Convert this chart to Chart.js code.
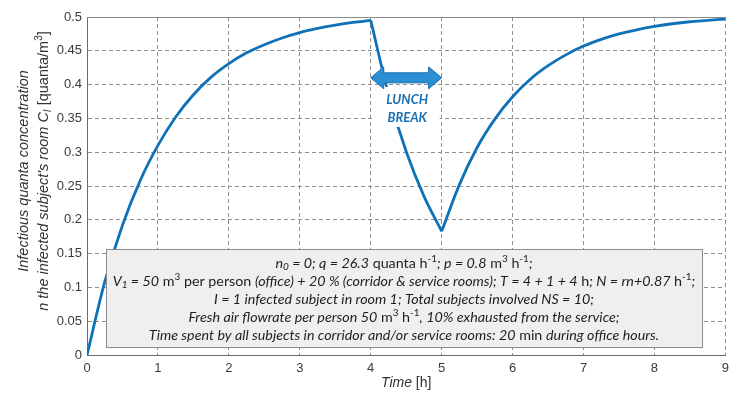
<!DOCTYPE html>
<html>
<head>
<meta charset="utf-8">
<script src="https://cdn.jsdelivr.net/npm/chart.js@4.4.1/dist/chart.umd.min.js"></script>
<style>
  html, body { margin: 0; padding: 0; background: #fff; }
  #wrap { width: 735px; height: 394px; }
</style>
</head>
<body>
<div id="wrap"><canvas id="conc-chart" width="735" height="394"></canvas></div>
<script>
// Values (time in h, concentration in quanta/m3)
var morningTime = [0, 0.25, 0.5, 0.75, 1, 1.25, 1.5, 1.75, 2, 2.25, 2.5, 2.75, 3, 3.25, 3.5, 3.75, 4];
var morningConc = [0, 0.108, 0.192, 0.258, 0.310, 0.352, 0.385, 0.411, 0.431, 0.447, 0.459, 0.469, 0.477, 0.483, 0.488, 0.492, 0.495];
var lunchTime = [4, 4.25, 4.5, 4.75, 5];
var lunchConc = [0.495, 0.386, 0.301, 0.235, 0.183];
var afternoonTime = [5, 5.25, 5.5, 5.75, 6, 6.25, 6.5, 6.75, 7, 7.25, 7.5, 7.75, 8, 8.25, 8.5, 8.75, 9];
var afternoonConc = [0.183, 0.252, 0.307, 0.349, 0.382, 0.408, 0.428, 0.444, 0.457, 0.467, 0.475, 0.481, 0.486, 0.490, 0.493, 0.495, 0.497];
var xTicks = [0, 1, 2, 3, 4, 5, 6, 7, 8, 9];
var yTicks = [0, 0.05, 0.1, 0.15, 0.2, 0.25, 0.3, 0.35, 0.4, 0.45, 0.5];

var lineColor = '#0f72b8';
var boxFont = 'Lato';
var axisFont = 'Liberation Sans';

function toPoints(xs, ys) {
  return xs.map(function(x, i) { return { x: x, y: ys[i] }; });
}

function makeSet(xs, ys) {
  return {
    data: toPoints(xs, ys),
    borderColor: lineColor,
    borderWidth: 2.8,
    pointRadius: 0,
    fill: false,
    cubicInterpolationMode: 'monotone'
  };
}

// draws a line of mixed italic / regular / sub / sup text centred on cx
function drawRich(ctx, segs, cx, y, size, family) {
  function fontFor(st) {
    var small = Math.round(size * 0.68);
    if (st === 'i') return 'italic ' + size + 'px "' + family + '"';
    if (st === 'sub') return 'italic ' + small + 'px "' + family + '"';
    if (st === 'sup') return small + 'px "' + family + '"';
    return size + 'px "' + family + '"';
  }
  var total = 0;
  segs.forEach(function(s) {
    ctx.font = fontFor(s[1]);
    total += ctx.measureText(s[0]).width;
  });
  var x = cx - total / 2;
  ctx.textAlign = 'left';
  ctx.textBaseline = 'middle';
  segs.forEach(function(s) {
    ctx.font = fontFor(s[1]);
    var dy = 0;
    if (s[1] === 'sub') dy = size * 0.28;
    if (s[1] === 'sup') dy = -size * 0.3;
    ctx.fillText(s[0], x, y + dy);
    x += ctx.measureText(s[0]).width;
  });
}

var boxLines = [
  [['n', 'i'], ['0', 'sub'], [' = 0; q = 26.3', 'i'], [' quanta h', 'r'], ['-1', 'sup'], ['; p = 0.8', 'i'], [' m', 'r'], ['3', 'sup'], [' h', 'r'], ['-1', 'sup'], [';', 'i']],
  [['V', 'i'], ['1', 'sub'], [' = 50', 'i'], [' m', 'r'], ['3', 'sup'], [' per person ', 'r'], ['(office) + 20 % (corridor & service rooms); T = 4 + 1 + 4', 'i'], [' h', 'r'], ['; N = rn+0.87', 'i'], [' h', 'r'], ['-1', 'sup'], [';', 'i']],
  [['I = 1 infected subject in room 1; Total subjects involved NS = 10;', 'i']],
  [['Fresh air flowrate per person 50', 'i'], [' m', 'r'], ['3', 'sup'], [' h', 'r'], ['-1', 'sup'], [', 10% exhausted from the service;', 'i']],
  [['Time spent by all subjects in corridor and/or service rooms: 20', 'i'], [' min ', 'r'], ['during office hours.', 'i']]
];

var annotations = {
  id: 'annotations',
  beforeDatasetsDraw: function(chart) {
    var ctx = chart.ctx, a = chart.chartArea;
    ctx.save();
    ctx.strokeStyle = '#8a8a8a';
    ctx.lineWidth = 1;
    ctx.beginPath();
    ctx.moveTo(a.left, a.top + 0.5);
    ctx.lineTo(a.right, a.top + 0.5);
    ctx.stroke();
    ctx.restore();
  },
  afterDatasetsDraw: function(chart) {
    var ctx = chart.ctx, a = chart.chartArea;
    var xs = chart.scales.x, ys = chart.scales.y;
    ctx.save();
    // info box
    var bx = a.left + 19, by = 249, bw = 596, bh = 98;
    ctx.fillStyle = '#efefef';
    ctx.fillRect(bx, by, bw, bh);
    ctx.strokeStyle = '#8c8c8c';
    ctx.lineWidth = 1;
    ctx.strokeRect(bx + 0.5, by + 0.5, bw, bh);
    ctx.fillStyle = '#1e1e1e';
    boxLines.forEach(function(line, i) {
      drawRich(ctx, line, bx + bw / 2, by + 14 + i * 18, 14.3, boxFont);
    });

    // lunch break label
    var x4 = xs.getPixelForValue(4), x5 = xs.getPixelForValue(5);
    var ay = ys.getPixelForValue(0.41);
    ctx.fillStyle = '#ffffff';
    ctx.fillRect(x4 + 3, ay + 9, x5 - x4 - 5, 40);
    ctx.fillStyle = '#1a6fb3';
    ctx.font = 'italic bold 13px "' + boxFont + '"';
    ctx.textAlign = 'center';
    ctx.textBaseline = 'middle';
    ctx.fillText('LUNCH', (x4 + x5) / 2 + 1, ay + 22);
    ctx.fillText('BREAK', (x4 + x5) / 2 + 1, ay + 40);

    // double arrow
    var hl = 13, hh = 11, sh = 5;
    ctx.beginPath();
    ctx.moveTo(x4, ay);
    ctx.lineTo(x4 + hl, ay - hh);
    ctx.lineTo(x4 + hl, ay - sh);
    ctx.lineTo(x5 - hl, ay - sh);
    ctx.lineTo(x5 - hl, ay - hh);
    ctx.lineTo(x5, ay);
    ctx.lineTo(x5 - hl, ay + hh);
    ctx.lineTo(x5 - hl, ay + sh);
    ctx.lineTo(x4 + hl, ay + sh);
    ctx.lineTo(x4 + hl, ay + hh);
    ctx.closePath();
    ctx.fillStyle = '#2b8fd4';
    ctx.fill();
    ctx.strokeStyle = '#1b6fae';
    ctx.lineWidth = 1;
    ctx.stroke();
    ctx.restore();
  },
  afterDraw: function(chart) {
    var ctx = chart.ctx, a = chart.chartArea;
    ctx.save();
    ctx.fillStyle = '#333';
    // x title
    drawRich(ctx, [['Time', 'i'], [' [h]', 'r']], (a.left + a.right) / 2, 383, 14, axisFont);
    // y title, two rotated lines
    ctx.translate(24, 171);
    ctx.rotate(-Math.PI / 2);
    drawRich(ctx, [['Infectious quanta concentration', 'i']], 0, 0, 14.5, axisFont);
    drawRich(ctx, [["n the infected subject's room C", 'i'], ['I', 'sub'], [' [quanta/m', 'r'], ['3', 'sup'], [']', 'r']], 0, 20, 14.5, axisFont);
    ctx.restore();
  }
};

var ctx = document.getElementById('conc-chart').getContext('2d');
var concChart = new Chart(ctx, {
  type: 'line',
  data: {
    datasets: [
      makeSet(morningTime, morningConc),
      makeSet(lunchTime, lunchConc),
      makeSet(afternoonTime, afternoonConc)
    ]
  },
  options: {
    responsive: false,
    animation: false,
    events: [],
    layout: { padding: { top: 17, right: 8, left: 0, bottom: 0 } },
    plugins: { legend: { display: false }, tooltip: { enabled: false } },
    scales: {
      x: {
        type: 'linear',
        min: 0,
        max: 9,
        afterBuildTicks: function(scale) {
          scale.ticks = xTicks.map(function(v) { return { value: v }; });
        },
        afterFit: function(scale) { scale.height = 39; },
        ticks: { color: '#3a3a3a', font: { family: axisFont, size: 13 }, padding: 6, maxRotation: 0 },
        grid: { color: '#8f8f8f', drawTicks: false },
        border: { display: true, color: '#6a6a6a', width: 1, dash: [4, 3] }
      },
      y: {
        min: 0,
        max: 0.5,
        afterBuildTicks: function(scale) {
          scale.ticks = yTicks.map(function(v) { return { value: v }; });
        },
        afterFit: function(scale) { scale.width = 87; },
        ticks: {
          color: '#3a3a3a',
          font: { family: axisFont, size: 13 },
          padding: 5,
          callback: function(v) { return String(Math.round(v * 100) / 100); }
        },
        grid: { color: '#8f8f8f', drawTicks: false },
        border: { display: true, color: '#6a6a6a', width: 1, dash: [4, 3] }
      }
    }
  },
  plugins: [annotations]
});
</script>
</body>
</html>
